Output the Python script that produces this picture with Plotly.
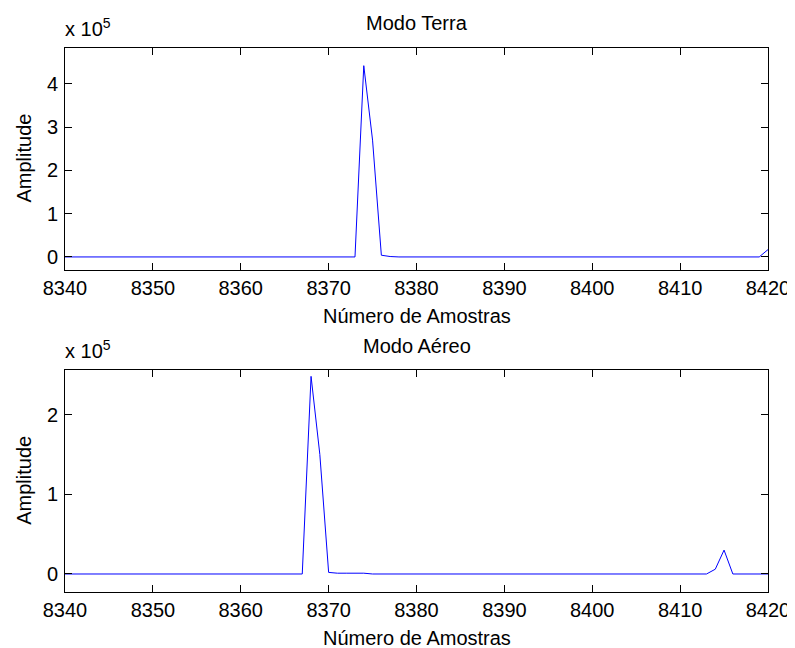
import plotly.graph_objects as go

# page is shown with the browser's default 8px body margin; compensate
OX, OY = 8, 8
W, H = 795 - OX, 648 - OY

# ---- data ----
samples = list(range(8340, 8421))

terra_amp = [
    0, 0, 0, 0, 0, 0, 0, 0, 0, 0,          # 8340-8349
    0, 0, 0, 0, 0, 0, 0, 0, 0, 0,          # 8350-8359
    0, 0, 0, 0, 0, 0, 0, 0, 0, 0,          # 8360-8369
    0, 0, 0, 0, 442000, 270000, 4000, 1000, 0, 0,  # 8370-8379
    0, 0, 0, 0, 0, 0, 0, 0, 0, 0,          # 8380-8389
    0, 0, 0, 0, 0, 0, 0, 0, 0, 0,          # 8390-8399
    0, 0, 0, 0, 0, 0, 0, 0, 0, 0,          # 8400-8409
    0, 0, 0, 0, 0, 0, 0, 0, 0, 0,          # 8410-8419
    17000,                                 # 8420
]

aereo_amp = [
    0, 0, 0, 0, 0, 0, 0, 0, 0, 0,          # 8340-8349
    0, 0, 0, 0, 0, 0, 0, 0, 0, 0,          # 8350-8359
    0, 0, 0, 0, 0, 0, 0, 0, 248000, 150000,  # 8360-8369
    2000, 1000, 1000, 1000, 1000, 0, 0, 0, 0, 0,  # 8370-8379
    0, 0, 0, 0, 0, 0, 0, 0, 0, 0,          # 8380-8389
    0, 0, 0, 0, 0, 0, 0, 0, 0, 0,          # 8390-8399
    0, 0, 0, 0, 0, 0, 0, 0, 0, 0,          # 8400-8409
    0, 0, 0, 0, 6000, 30000, 0, 0, 0, 0,   # 8410-8419
    0,                                     # 8420
]

x_ticks = [8340, 8350, 8360, 8370, 8380, 8390, 8400, 8410, 8420]
terra_yticks = [0, 100000, 200000, 300000, 400000]
terra_yticklabels = ["0", "1", "2", "3", "4"]
aereo_yticks = [0, 100000, 200000]
aereo_yticklabels = ["0", "1", "2"]

titles = ["Modo Terra", "Modo Aéreo"]
xlabel = "Número de Amostras"
ylabel = "Amplitude"
exp_label = "x 10<sup>5</sup>"

# ---- layout helpers (window pixel -> paper) ----
def px_x(p):
    return (p - OX) / W

def px_y(p):
    return 1 - (p - OY) / H

FONT = "Liberation Sans, Arial, sans-serif"
FS = 20

left, right = 65, 768
boxes = [(47.5, 269.5), (369.5, 592)]

fig = go.Figure()
fig.add_trace(go.Scatter(x=samples, y=terra_amp, mode="lines",
                         line=dict(color="#0000ff", width=1), xaxis="x", yaxis="y",
                         showlegend=False))
fig.add_trace(go.Scatter(x=samples, y=aereo_amp, mode="lines",
                         line=dict(color="#0000ff", width=1), xaxis="x2", yaxis="y2",
                         showlegend=False))

axis_common = dict(showline=True, linecolor="black", linewidth=1, mirror="ticks",
                   ticks="inside", ticklen=7, tickcolor="black", tickwidth=1,
                   showgrid=False, zeroline=False, automargin=False,
                   tickfont=dict(family=FONT, size=FS, color="black"))

fig.update_layout(
    width=W, height=H,
    margin=dict(l=0, r=0, t=0, b=0),
    paper_bgcolor="white", plot_bgcolor="white",
    font=dict(family=FONT, size=FS, color="black"),
    xaxis=dict(domain=[px_x(left), px_x(right)], range=[8340, 8420],
               tickvals=x_ticks, anchor="y", ticklabelstandoff=0, **axis_common),
    yaxis=dict(domain=[px_y(boxes[0][1]), px_y(boxes[0][0])], range=[-29000, 484000],
               tickvals=terra_yticks, ticktext=terra_yticklabels, anchor="x",
               ticklabelstandoff=2, **axis_common),
    xaxis2=dict(domain=[px_x(left), px_x(right)], range=[8340, 8420],
                tickvals=x_ticks, anchor="y2", ticklabelstandoff=0, **axis_common),
    yaxis2=dict(domain=[px_y(boxes[1][1]), px_y(boxes[1][0])], range=[-22600, 256600],
                tickvals=aereo_yticks, ticktext=aereo_yticklabels, anchor="x2",
                ticklabelstandoff=2, **axis_common),
)

annotations = []
for i, (top, bot) in enumerate(boxes):
    cx = (left + right) / 2
    annotations.append(dict(text=titles[i], x=px_x(cx), y=px_y(top - 24), xref="paper", yref="paper",
                            xanchor="center", yanchor="middle", showarrow=False,
                            font=dict(family=FONT, size=FS, color="black")))
    annotations.append(dict(text=xlabel, x=px_x(cx), y=px_y(bot + 46), xref="paper", yref="paper",
                            xanchor="center", yanchor="middle", showarrow=False,
                            font=dict(family=FONT, size=FS, color="black")))
    annotations.append(dict(text=ylabel, x=px_x(24), y=px_y((top + bot) / 2), xref="paper", yref="paper",
                            xanchor="center", yanchor="middle", textangle=-90, showarrow=False,
                            font=dict(family=FONT, size=FS, color="black")))
    annotations.append(dict(text=exp_label, x=px_x(left - 2), y=px_y(top - 6), xref="paper", yref="paper",
                            xanchor="left", yanchor="bottom", showarrow=False,
                            font=dict(family=FONT, size=FS, color="black")))
fig.update_layout(annotations=annotations)

fig.write_html("out.html")
